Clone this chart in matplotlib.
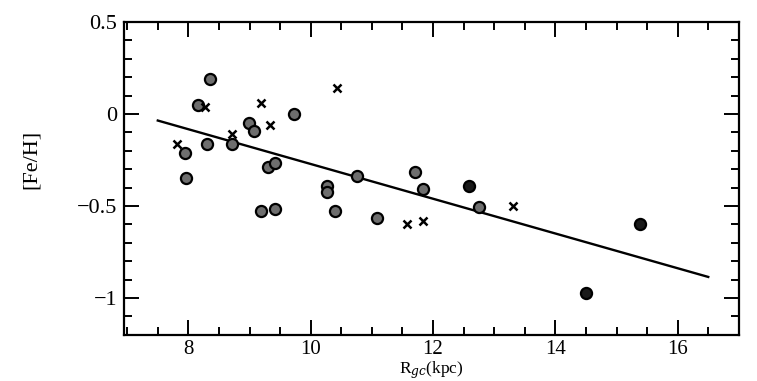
import matplotlib
matplotlib.use("Agg")
import matplotlib.pyplot as plt
from matplotlib.ticker import MultipleLocator

plt.rcParams['font.family'] = ['Liberation Serif', 'DejaVu Serif']
plt.rcParams['mathtext.fontset'] = 'dejavuserif'

# clusters with spectroscopic [Fe/H] (grey dots)
r_grey = [8.36, 8.16, 9.72, 8.99, 9.07, 8.71, 8.31, 7.95, 7.96, 9.31, 9.42,
          10.75, 10.26, 10.26, 9.19, 9.42, 10.40, 11.08, 11.71, 11.83, 12.75]
feh_grey = [0.19, 0.05, 0.0, -0.05, -0.09, -0.16, -0.16, -0.21, -0.35, -0.29, -0.265,
            -0.335, -0.39, -0.425, -0.525, -0.515, -0.525, -0.565, -0.315, -0.405, -0.505]

# darker dots at large radius
r_dark = [12.59, 15.39, 14.50]
feh_dark = [-0.39, -0.60, -0.97]

# crosses
r_x = [8.28, 9.18, 9.33, 8.71, 7.82, 10.43, 13.30, 11.58, 11.84]
feh_x = [0.04, 0.06, -0.06, -0.11, -0.16, 0.14, -0.50, -0.60, -0.58]

# gradient fit
fit_r = [7.5, 16.5]
fit_feh = [-0.035, -0.885]

fig = plt.figure(figsize=(7.57, 3.81), dpi=100)
ax = fig.add_axes([0.164, 0.121, 0.812, 0.821])

ax.plot(fit_r, fit_feh, color='black', lw=1.7, zorder=2)
ax.plot(r_grey, feh_grey, 'o', ms=8, mfc='#6e6e6e', mec='black', mew=1.6, ls='none', zorder=3)
ax.plot(r_dark, feh_dark, 'o', ms=8, mfc='#1a1a1a', mec='black', mew=1.6, ls='none', zorder=3)
ax.plot(r_x, feh_x, 'x', ms=6, color='black', mew=1.8, ls='none', zorder=3)

ax.set_xlim(6.95, 17.0)
ax.set_ylim(-1.2, 0.5)
ax.xaxis.set_major_locator(MultipleLocator(2))
ax.xaxis.set_minor_locator(MultipleLocator(0.5))
ax.yaxis.set_minor_locator(MultipleLocator(0.1))
ax.set_yticks([-1, -0.5, 0, 0.5])
ax.set_yticklabels(['\u22121', '\u22120.5', '0', '0.5'])

ax.tick_params(which='both', direction='in', top=True, right=True, width=1.4,
               labelsize=16, pad=5)
ax.tick_params(axis='x', labelsize=15, pad=4)
ax.tick_params(which='major', length=11)
ax.tick_params(which='minor', length=6)
for s in ax.spines.values():
    s.set_linewidth(1.6)

ax.set_ylabel('[Fe/H]', fontsize=16)
ax.yaxis.set_label_coords(-0.135, 0.56)
ax.set_xlabel(r'R$_{gc}$(kpc)', fontsize=12.5)
ax.xaxis.set_label_coords(0.5, -0.078)

fig.savefig('out.png', dpi=100)
